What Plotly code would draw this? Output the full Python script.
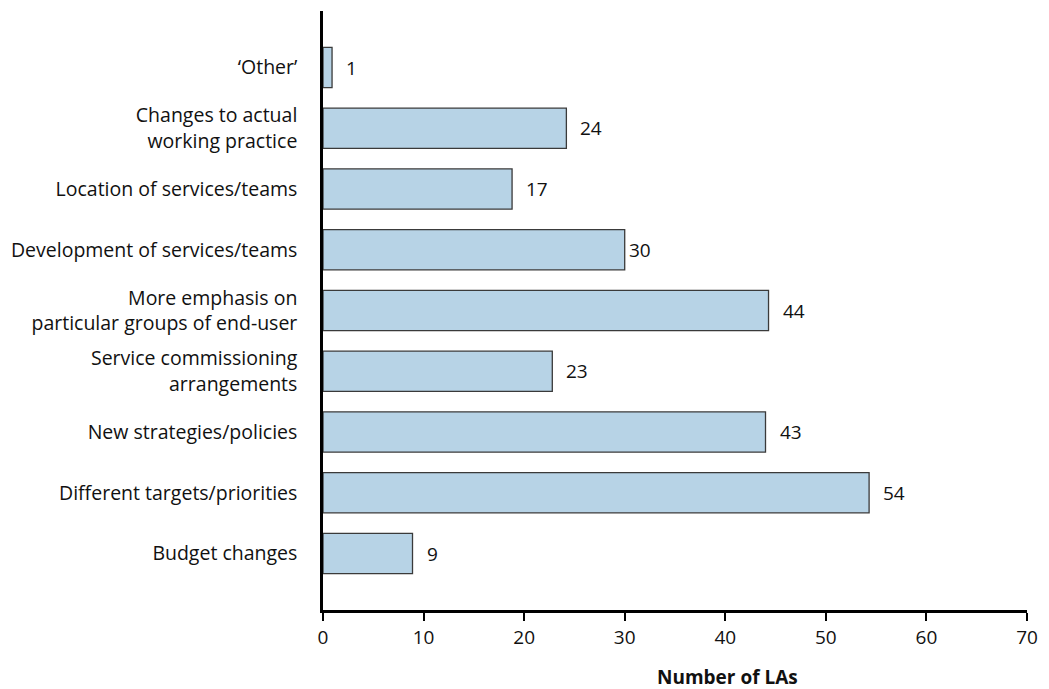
import plotly.graph_objects as go

categories = [
    "Budget changes",
    "Different targets/priorities",
    "New strategies/policies",
    "Service commissioning<br>arrangements",
    "More emphasis on<br>particular groups of end-user",
    "Development of services/teams",
    "Location of services/teams",
    "Changes to actual<br>working practice",
    "\u2018Other\u2019",
]
bar_lengths = [8.9, 54.3, 44.0, 22.8, 44.3, 30.0, 18.8, 24.2, 0.9]
value_labels = ["9", "54", "43", "23", "44", "30", "17", "24", "1"]
x_ticks = [0, 10, 20, 30, 40, 50, 60, 70]

FONT = "Open Sans"
TXT = "#111111"

fig = go.Figure()
fig.add_trace(go.Bar(
    y=categories,
    x=bar_lengths,
    orientation="h",
    width=0.66,
    marker=dict(color="#b7d3e6", line=dict(color="#3a3a3a", width=1.3)),
    hoverinfo="skip",
))

for cat, v, lab in zip(categories, bar_lengths, value_labels):
    shift = 2 if lab == "30" else 12
    fig.add_annotation(
        x=v, y=cat, text=lab, showarrow=False,
        xanchor="left", yanchor="middle", xshift=shift,
        font=dict(family=FONT, size=19, color=TXT),
    )

fig.add_annotation(
    xref="paper", yref="paper", x=0.574, y=0, yshift=-67,
    text="<b>Number of LAs</b>", showarrow=False,
    xanchor="center", yanchor="middle",
    font=dict(family=FONT, size=19, color=TXT),
)

fig.update_layout(
    width=1049, height=689,
    margin=dict(l=323, r=13, t=11, b=79),
    paper_bgcolor="white", plot_bgcolor="white",
    showlegend=False,
    font=dict(family=FONT, size=18.5, color=TXT),
)
fig.update_xaxes(
    range=[0, 70], tickvals=x_ticks, showgrid=False, zeroline=False,
    showline=True, linecolor="black", linewidth=3,
    ticks="outside", ticklen=8, tickwidth=1.5, tickcolor="black",
    tickfont=dict(family=FONT, size=19, color=TXT),
    fixedrange=True,
)
fig.update_yaxes(
    type="category", categoryorder="array", categoryarray=categories,
    range=[-0.93, 8.93], showgrid=False, zeroline=False,
    showline=True, linecolor="black", linewidth=2.5,
    ticks="", ticklabelstandoff=19,
    tickfont=dict(family=FONT, size=19.5, color=TXT),
    fixedrange=True,
)

fig.write_html(
    "out.html",
    config={"displayModeBar": False},
    post_script="document.body.style.margin='0';document.body.style.overflow='hidden';",
)
